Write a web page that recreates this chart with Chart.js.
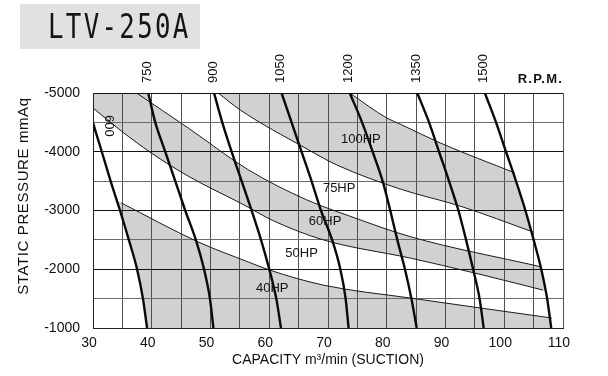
<!DOCTYPE html>
<html>
<head>
<meta charset="utf-8">
<script src="https://cdn.jsdelivr.net/npm/chart.js@4/dist/chart.umd.min.js"></script>
<style>
html,body{margin:0;padding:0;background:#fff;}
#wrap{width:608px;height:376px;position:relative;}
</style>
</head>
<body>
<div id="wrap"><canvas id="c" width="608" height="376"></canvas></div>
<script>
// ---------------- text ----------------
const chartTitle = 'LTV-250A';
const xAxisTitle = 'CAPACITY m³/min (SUCTION)';
const yAxisTitle = 'STATIC PRESSURE mmAq';
const rpmUnitLabel = 'R.P.M.';

// ---------------- axes ----------------
const capacityMin = 30, capacityMax = 110, capacityStep = 5, capacityLabelStep = 10;
const pressureMin = -5000, pressureMax = -1000, pressureStep = 500, pressureLabelStep = 1000;

// ---------------- RPM curves: [capacity m3/min, static pressure mmAq] ----------------
const rpmSpeeds = [600, 750, 900, 1050, 1200, 1350, 1500];
const rpm600  = [[30.0,-4490],[31.5,-4000],[33.0,-3500],[34.6,-3000],[36.1,-2500],[37.5,-2000],[38.5,-1500],[39.2,-1000]];
const rpm750  = [[39.4,-5000],[40.6,-4500],[42.3,-4000],[44.0,-3500],[45.7,-3000],[47.5,-2500],[48.9,-2000],[49.9,-1500],[50.5,-1000]];
const rpm900  = [[50.6,-5000],[52.0,-4500],[53.6,-4000],[55.3,-3500],[57.0,-3000],[58.6,-2500],[60.0,-2000],[61.2,-1500],[62.0,-1000]];
const rpm1050 = [[62.1,-5000],[63.8,-4500],[65.5,-4000],[67.2,-3500],[68.8,-3000],[70.7,-2500],[72.1,-2000],[73.0,-1500],[73.5,-1000]];
const rpm1200 = [[73.7,-5000],[75.8,-4500],[77.6,-4000],[79.3,-3500],[80.6,-3000],[81.8,-2500],[83.1,-2000],[84.2,-1500],[85.1,-1000]];
const rpm1350 = [[85.2,-5000],[87.2,-4500],[88.9,-4000],[90.6,-3500],[92.2,-3000],[93.5,-2500],[94.7,-2000],[95.8,-1500],[96.5,-1000]];
const rpm1500 = [[96.7,-5000],[98.6,-4500],[100.3,-4000],[102.0,-3500],[103.6,-3000],[105.0,-2500],[106.3,-2000],[107.3,-1500],[108.0,-1000]];
const rpmCurves = [rpm600, rpm750, rpm900, rpm1050, rpm1200, rpm1350, rpm1500];
const rpmInsideLabelAt = [32.6, -4440];   // the 600 label sits inside the plot

// ---------------- motor power boundary lines ----------------
const hp100Upper = [[73.7,-5000],[80.0,-4575],[82.3,-4470],[89.1,-4150],[101.8,-3640]];
const hp100Lower = [[51.3,-5000],[55.0,-4715],[66.1,-4065],[71.5,-3775],[82.3,-3365],[92.5,-3075],[104.9,-2635]];
const hp60Upper  = [[37.4,-5000],[46.2,-4405],[56.4,-3695],[66.4,-3180],[73.7,-2905],[84.0,-2555],[106.1,-2045]];
const hp60Lower  = [[30.0,-4745],[34.8,-4355],[39.9,-3980],[46.2,-3585],[55.7,-3095],[60.6,-2830],[69.2,-2500],[84.0,-2190],[95.0,-1935],[106.6,-1645]];
const hp40Upper  = [[34.8,-3130],[47.9,-2465],[56.4,-2125],[60.1,-1985],[69.2,-1730],[84.0,-1510],[108.1,-1170]];
const hpLines = [hp100Upper, hp100Lower, hp60Upper, hp60Lower, hp40Upper];

const hpLabels  = ['100HP', '75HP', '60HP', '50HP', '40HP'];
const hpLabelAt = [[75.6,-4215],[71.9,-3375],[69.5,-2815],[65.5,-2270],[60.5,-1675]];

// shaded ranges: band between two lines, limited by two rpm curves (null = plot edge)
const shadedRegions = [
  {upper: 'hp100Upper', lower: 'hp100Lower', left: 'rpm900', right: 'rpm1500'},
  {upper: null,         lower: 'hp60Lower',  left: null,     right: 'rpm750'},
  {upper: 'hp60Upper',  lower: 'hp60Lower',  left: null,     right: 'rpm1500'},
  {upper: 'hp40Upper',  lower: null,         left: 'rpm600', right: 'rpm1500'}
];

// ---------------- build ----------------
const FONT = '"Liberation Sans", Arial, sans-serif';
const SHADE = '#d1d1d1';
const names = ['rpm600','rpm750','rpm900','rpm1050','rpm1200','rpm1350','rpm1500',
               'hp100Upper','hp100Lower','hp60Upper','hp60Lower','hp40Upper'];
const toXY = arr => arr.map(([x, y]) => ({x, y}));

const datasets = rpmCurves.map((c, i) => ({
  label: rpmSpeeds[i] + ' R.P.M.',
  data: toXY(c), showLine: true, borderColor: '#0a0a0a', borderWidth: 2.4,
  pointRadius: 0, pointHoverRadius: 0, cubicInterpolationMode: 'monotone', fill: false
})).concat(hpLines.map((l, i) => ({
  label: names[7 + i],
  data: toXY(l), showLine: true, borderColor: '#1a1a1a', borderWidth: 1,
  pointRadius: 0, pointHoverRadius: 0, cubicInterpolationMode: 'monotone', fill: false
})));

function ext(p, q, d) {
  const dx = p.x - q.x, dy = p.y - q.y, l = Math.hypot(dx, dy) || 1;
  return {x: p.x + dx / l * d, y: p.y + dy / l * d};
}
function seg(ctx, a, b, fwd) {
  const c1x = fwd ? a.cp2x : a.cp1x, c1y = fwd ? a.cp2y : a.cp1y;
  const c2x = fwd ? b.cp1x : b.cp2x, c2y = fwd ? b.cp1y : b.cp2y;
  if ([c1x, c1y, c2x, c2y].every(v => typeof v === 'number' && isFinite(v))) ctx.bezierCurveTo(c1x, c1y, c2x, c2y, b.x, b.y);
  else ctx.lineTo(b.x, b.y);
}
function emit(ctx, pts, rev, d, first) {
  const n = pts.length;
  const s = ext(pts[0], pts[1], d), e = ext(pts[n - 1], pts[n - 2], d);
  if (!rev) {
    first ? ctx.moveTo(s.x, s.y) : ctx.lineTo(s.x, s.y);
    ctx.lineTo(pts[0].x, pts[0].y);
    for (let i = 1; i < n; i++) seg(ctx, pts[i - 1], pts[i], true);
    ctx.lineTo(e.x, e.y);
  } else {
    first ? ctx.moveTo(e.x, e.y) : ctx.lineTo(e.x, e.y);
    ctx.lineTo(pts[n - 1].x, pts[n - 1].y);
    for (let i = n - 2; i >= 0; i--) seg(ctx, pts[i + 1], pts[i], false);
    ctx.lineTo(s.x, s.y);
  }
}
const ptsOf = (chart, name) => chart.getDatasetMeta(names.indexOf(name)).data;

const shadePlugin = {
  id: 'shade',
  beforeDraw(chart) {
    const {ctx, chartArea: a} = chart;
    shadedRegions.forEach(r => {
      ctx.save();
      ctx.beginPath(); ctx.rect(a.left, a.top, a.right - a.left, a.bottom - a.top); ctx.clip();
      ctx.beginPath();
      if (r.left) emit(ctx, ptsOf(chart, r.left), false, 60, true);
      else { ctx.moveTo(a.left - 80, a.top - 80); ctx.lineTo(a.left - 80, a.bottom + 80); }
      if (r.right) emit(ctx, ptsOf(chart, r.right), true, 60, false);
      else { ctx.lineTo(a.right + 80, a.bottom + 80); ctx.lineTo(a.right + 80, a.top - 80); }
      ctx.closePath(); ctx.clip();
      ctx.beginPath();
      if (r.upper) emit(ctx, ptsOf(chart, r.upper), false, 40, true);
      else { ctx.moveTo(a.left - 60, a.top - 60); ctx.lineTo(a.right + 60, a.top - 60); }
      if (r.lower) emit(ctx, ptsOf(chart, r.lower), true, 40, false);
      else { ctx.lineTo(a.right + 60, a.bottom + 60); ctx.lineTo(a.left - 60, a.bottom + 60); }
      ctx.closePath();
      ctx.fillStyle = SHADE; ctx.fill();
      ctx.restore();
    });
  }
};

const textPlugin = {
  id: 'texts',
  afterDraw(chart) {
    const {ctx, chartArea: a, scales: {x, y}} = chart;
    ctx.save();
    // title block
    ctx.fillStyle = '#e1e1e1';
    ctx.fillRect(20, 4, 180, 45);
    ctx.save();
    ctx.fillStyle = '#151515';
    ctx.font = '33px "DejaVu Sans Mono", monospace';
    try { ctx.letterSpacing = '3px'; } catch (e) {}
    ctx.translate(48, 38);
    ctx.scale(0.78, 1);
    ctx.textAlign = 'left'; ctx.textBaseline = 'alphabetic';
    ctx.fillText(chartTitle, 0, 0);
    ctx.restore();

    // rpm labels above the plot
    ctx.font = '13px ' + FONT;
    ctx.fillStyle = '#111';
    rpmCurves.forEach((c, i) => {
      if (c[0][1] !== pressureMin) return;
      const px = x.getPixelForValue(c[0][0]) - 1;
      ctx.save();
      ctx.translate(px, a.top - 10);
      ctx.rotate(-Math.PI / 2);
      ctx.textAlign = 'left'; ctx.textBaseline = 'middle';
      ctx.fillText(String(rpmSpeeds[i]), 0, 0);
      ctx.restore();
    });
    // inside label for 600
    ctx.save();
    ctx.translate(x.getPixelForValue(rpmInsideLabelAt[0]), y.getPixelForValue(rpmInsideLabelAt[1]));
    ctx.rotate(Math.PI / 2);
    ctx.textAlign = 'center'; ctx.textBaseline = 'middle';
    ctx.fillText(String(rpmSpeeds[0]), 0, 0);
    ctx.restore();

    // R.P.M.
    ctx.save();
    ctx.font = 'bold 13px ' + FONT;
    try { ctx.letterSpacing = '1.2px'; } catch (e) {}
    ctx.textAlign = 'right'; ctx.textBaseline = 'middle';
    ctx.fillText(rpmUnitLabel, a.right, a.top - 14);
    ctx.restore();

    // HP labels
    ctx.font = '13px ' + FONT;
    ctx.textAlign = 'center'; ctx.textBaseline = 'middle';
    hpLabels.forEach((t, i) => {
      ctx.fillText(t, x.getPixelForValue(hpLabelAt[i][0]), y.getPixelForValue(hpLabelAt[i][1]));
    });

    // y axis title
    ctx.save();
    ctx.font = '15px ' + FONT;
    try { ctx.letterSpacing = '0.6px'; } catch (e) {}
    ctx.translate(24, 196);
    ctx.rotate(-Math.PI / 2);
    ctx.textAlign = 'center'; ctx.textBaseline = 'middle';
    ctx.fillText(yAxisTitle, 0, 0);
    ctx.restore();
    ctx.restore();
  }
};

new Chart(document.getElementById('c'), {
  type: 'scatter',
  data: {datasets},
  options: {
    responsive: false,
    animation: false,
    devicePixelRatio: 1,
    layout: {padding: {top: 93, right: 45, bottom: 0, left: 0}},
    plugins: {legend: {display: false}, tooltip: {enabled: false}},
    events: [],
    scales: {
      x: {
        type: 'linear', position: 'bottom', min: capacityMin, max: capacityMax,
        afterFit: s => { s.height = 48; },
        ticks: {
          stepSize: capacityStep, autoSkip: false, maxRotation: 0, minRotation: 0,
          labelOffset: -4, padding: 7, color: '#111', font: {family: FONT, size: 14},
          callback: v => (v % capacityLabelStep === 0 ? String(v) : '')
        },
        grid: {color: '#505050', lineWidth: 1, drawTicks: false},
        border: {color: '#222', width: 1},
        title: {display: true, text: xAxisTitle, color: '#111', font: {family: FONT, size: 14}, padding: {top: 0, bottom: 7}}
      },
      y: {
        type: 'linear', position: 'left', min: pressureMin, max: pressureMax, reverse: true,
        afterFit: s => { s.width = 93; },
        ticks: {
          stepSize: pressureStep, autoSkip: false, padding: 13, color: '#111',
          font: {family: FONT, size: 14},
          callback: v => (v % pressureLabelStep === 0 ? String(v) : '')
        },
        grid: {
          color: c => (c.tick && c.tick.value % pressureLabelStep === 0 ? '#111' : '#6a6a6a'),
          lineWidth: 1, drawTicks: false
        },
        border: {color: '#222', width: 1}
      }
    }
  },
  plugins: [shadePlugin, textPlugin]
});
</script>
</body>
</html>
